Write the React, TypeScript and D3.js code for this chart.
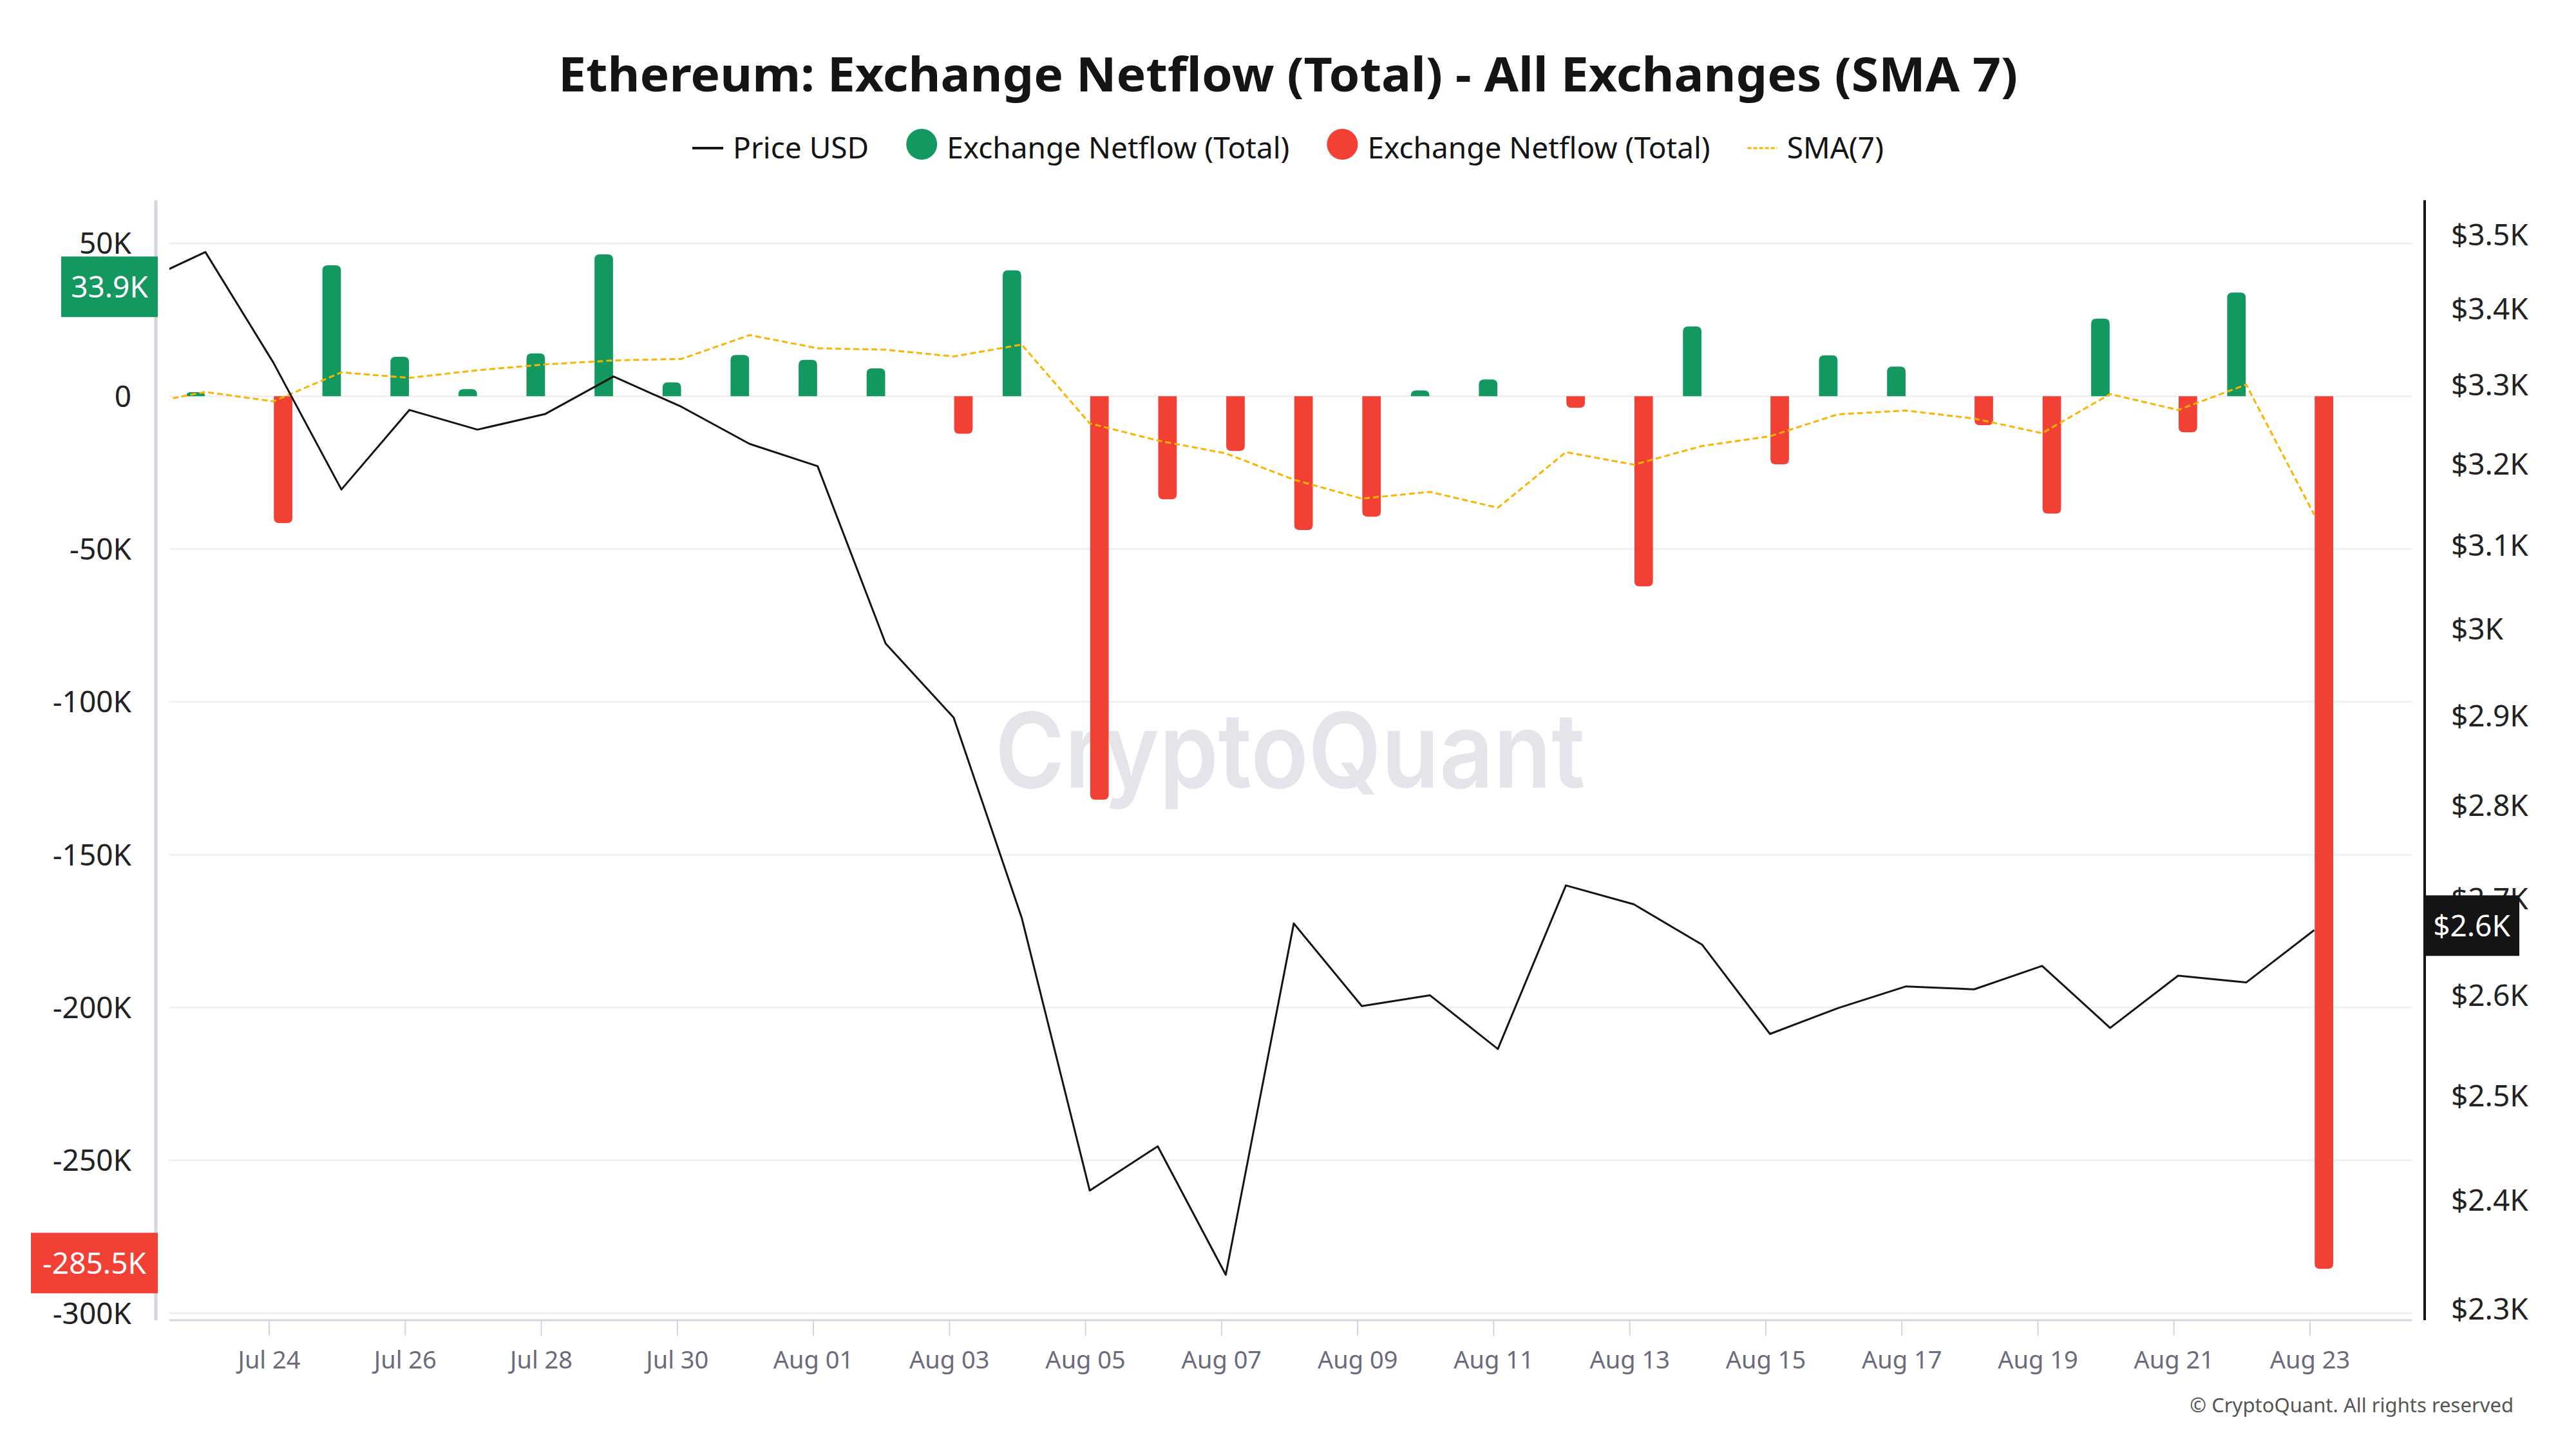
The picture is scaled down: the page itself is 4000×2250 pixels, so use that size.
import React, { useEffect, useRef } from "react";
import * as d3 from "d3";

// daily points, Jul 22 .. Aug 23 (2024)
const priceDates = d3.utcDay.range(new Date(Date.UTC(2024, 6, 22)), new Date(Date.UTC(2024, 7, 24)));
const flowDates = priceDates.slice(1); // Jul 23 .. Aug 23

const priceUsd = [
  3433, 3476, 3329, 3168, 3268, 3243, 3263, 3311, 3272, 3225,
  3197, 2983, 2898, 2680, 2409, 2451, 2331, 2674, 2589, 2600,
  2546, 2714, 2694, 2652, 2561, 2587, 2609, 2606, 2630, 2567,
  2620, 2613, 2667,
];

// exchange netflow, thousands of ETH
const netflowK = [
  1.3, -41.5, 42.8, 12.9, 2.3, 14.0, 46.4, 4.5, 13.5, 11.9,
  9.1, -12.3, 41.2, -132.0, -33.7, -17.9, -43.8, -39.4, 1.9, 5.5,
  -3.8, -62.2, 22.8, -22.3, 13.4, 9.7, -9.5, -38.4, 25.4, -11.8,
  33.9, -285.5,
];

// SMA(7) of netflow, thousands, Jul 22 .. Aug 23
const smaK = [
  -2.9, 1.4, -1.7, 7.8, 6.0, 8.5, 10.4, 11.7, 12.2, 20.0,
  15.7, 15.2, 13.0, 16.9, -8.9, -14.5, -18.7, -27.3, -33.5, -31.3,
  -36.5, -18.3, -22.4, -16.3, -13.1, -5.9, -4.7, -7.3, -12.1, 0.7,
  -4.5, 3.8, -38.8,
];

const flowTicks = [50000, 0, -50000, -100000, -150000, -200000, -250000, -300000];
const priceTicks = [3500, 3400, 3300, 3200, 3100, 3000, 2900, 2800, 2700, 2600, 2500, 2400, 2300];
const dateTicks = d3.utcDay.range(new Date(Date.UTC(2024, 6, 24)), new Date(Date.UTC(2024, 7, 24)), 2);

const legendItems = [
  { key: "price", label: "Price USD" },
  { key: "in", label: "Exchange Netflow (Total)" },
  { key: "out", label: "Exchange Netflow (Total)" },
  { key: "sma", label: "SMA(7)" },
];

const GREEN = "#139860";
const RED = "#f34035";
const ORANGE = "#fbb400";
const INK = "#141414";
const FONT = "'Noto Sans', 'Open Sans', sans-serif";

// plain hyphen for negatives, as on the chart
const fmtK = v => `${d3.format(".1f")(v / 1000).replace("\u2212", "-")}K`;

export default function App() {
  const svgRef = useRef(null);

  useEffect(() => {
    const width = 4000;
    const height = 2250;
    const plot = { left: 263, right: 3745, top: 311, bottom: 2050 };
    const pointShift = 6.5; // data points sit a little right of the day tick

    const svg = d3.select(svgRef.current)
      .attr("width", width)
      .attr("height", height)
      .attr("viewBox", [0, 0, width, height])
      .style("font-family", FONT);

    svg.selectAll("*").remove();

    svg.append("rect").attr("width", width).attr("height", height).attr("fill", "#fff");

    const x = d3.scaleUtc()
      .domain([new Date(Date.UTC(2024, 6, 22, 12, 47)), new Date(Date.UTC(2024, 7, 24, 11, 54))])
      .range([plot.left, plot.right]);
    const yFlow = d3.scaleLinear().domain([-302300, 64100]).range([plot.bottom, plot.top]);
    const yPrice = d3.scaleLog().domain([2290, 3547]).range([plot.bottom, plot.top]);
    const side = d3.scaleBand().domain(["in", "out"]).range([-31, 31]).padding(0.05);
    const px = d => x(d) + pointShift;

    svg.append("clipPath").attr("id", "plot-clip")
      .append("rect")
      .attr("x", plot.left).attr("y", plot.top)
      .attr("width", plot.right - plot.left).attr("height", plot.bottom - plot.top);

    // title
    svg.append("text")
      .attr("x", width / 2).attr("y", 142)
      .attr("text-anchor", "middle")
      .attr("font-size", 74)
      .attr("font-weight", 700)
      .attr("fill", INK)
      .attr("textLength", 2266)
      .attr("lengthAdjust", "spacingAndGlyphs")
      .text("Ethereum: Exchange Netflow (Total) - All Exchanges (SMA 7)");

    // legend, laid out from measured text widths and centred
    const legend = svg.append("g");
    let cursor = 0;
    legendItems.forEach((item, i) => {
      const g = legend.append("g").attr("transform", `translate(${cursor},0)`);
      let mw = 48;
      if (item.key === "price") {
        g.append("line").attr("x1", 0).attr("x2", 48).attr("y1", 0).attr("y2", 0)
          .attr("stroke", INK).attr("stroke-width", 4);
      } else if (item.key === "sma") {
        mw = 46;
        g.append("line").attr("x1", 0).attr("x2", 46).attr("y1", 0).attr("y2", 0)
          .attr("stroke", ORANGE).attr("stroke-width", 3).attr("stroke-dasharray", "6 3");
      } else {
        g.append("circle").attr("cx", 24).attr("cy", -6).attr("r", 24)
          .attr("fill", item.key === "in" ? GREEN : RED);
      }
      const t = g.append("text")
        .attr("x", mw + 15).attr("y", 16)
        .attr("font-size", 46)
        .attr("fill", INK)
        .text(item.label);
      const tw = t.node().getComputedTextLength();
      cursor += mw + 15 + tw + (i < legendItems.length - 1 ? 58 : 0);
    });
    legend.attr("transform", `translate(${width / 2 - cursor / 2},230)`);

    // watermark
    svg.append("text")
      .attr("x", 2003).attr("y", 1223)
      .attr("text-anchor", "middle")
      .attr("font-family", "Inter, 'Noto Sans', sans-serif")
      .attr("font-weight", 600)
      .attr("font-size", 162)
      .attr("fill", "#e4e4ea")
      .attr("textLength", 916)
      .attr("lengthAdjust", "spacingAndGlyphs")
      .text("CryptoQuant");

    // gridlines
    svg.append("g")
      .selectAll("line")
      .data(flowTicks)
      .join("line")
      .attr("x1", plot.left).attr("x2", plot.right)
      .attr("y1", d => yFlow(d)).attr("y2", d => yFlow(d))
      .attr("stroke", "#f0f0f0")
      .attr("stroke-width", 3);

    // axes lines
    svg.append("line")
      .attr("x1", 242).attr("x2", 242).attr("y1", plot.top).attr("y2", plot.bottom)
      .attr("stroke", "#d4d4de").attr("stroke-width", 5);
    svg.append("line")
      .attr("x1", 3765).attr("x2", 3765).attr("y1", plot.top).attr("y2", plot.bottom)
      .attr("stroke", INK).attr("stroke-width", 4);
    svg.append("line")
      .attr("x1", plot.left).attr("x2", plot.right).attr("y1", plot.bottom).attr("y2", plot.bottom)
      .attr("stroke", "#d4d4de").attr("stroke-width", 3);

    // x ticks
    const xt = svg.append("g").selectAll("g").data(dateTicks).join("g")
      .attr("transform", d => `translate(${x(d)},0)`);
    xt.append("line").attr("y1", plot.bottom).attr("y2", plot.bottom + 24)
      .attr("stroke", "#d4d4de").attr("stroke-width", 2);
    xt.append("text")
      .attr("y", 2125)
      .attr("text-anchor", "middle")
      .attr("font-size", 38)
      .attr("fill", "#6b6b7d")
      .text(d3.utcFormat("%b %d"));

    // left ticks
    svg.append("g").selectAll("text").data(flowTicks).join("text")
      .attr("x", 204).attr("y", d => yFlow(d))
      .attr("dy", "0.36em")
      .attr("text-anchor", "end")
      .attr("font-size", 46)
      .attr("fill", "#222")
      .text(d => (d === 0 ? "0" : `${d / 1000}K`));

    // right ticks
    svg.append("g").selectAll("text").data(priceTicks).join("text")
      .attr("x", 3806).attr("y", d => yPrice(d))
      .attr("dy", "0.36em")
      .attr("font-size", 46)
      .attr("fill", "#222")
      .text(d => `$${d3.format("~")(d / 1000)}K`);

    const series = svg.append("g").attr("clip-path", "url(#plot-clip)");

    // bars, rounded at the far end
    const barW = side.bandwidth();
    const r = 8;
    const barPath = (cx, y0, y1) => {
      const h = Math.abs(y1 - y0);
      const rr = Math.min(r, barW / 2, h);
      const xl = cx - barW / 2;
      const xr = cx + barW / 2;
      const s = y1 < y0 ? 1 : -1;
      return `M${xl},${y0}V${y1 + s * rr}Q${xl},${y1} ${xl + rr},${y1}H${xr - rr}Q${xr},${y1} ${xr},${y1 + s * rr}V${y0}Z`;
    };
    const flows = flowDates.map((d, i) => ({ date: d, value: netflowK[i] * 1000 }));
    series.append("g").selectAll("path").data(flows).join("path")
      .attr("fill", d => (d.value >= 0 ? GREEN : RED))
      .attr("d", d => {
        const key = d.value >= 0 ? "in" : "out";
        const cx = px(d.date) + side(key) + barW / 2;
        return barPath(cx, yFlow(0), yFlow(d.value));
      });

    // SMA(7)
    const smaLine = d3.line().x(d => px(d[0])).y(d => yFlow(d[1] * 1000));
    series.append("path")
      .datum(priceDates.map((d, i) => [d, smaK[i]]))
      .attr("fill", "none")
      .attr("stroke", ORANGE)
      .attr("stroke-width", 3)
      .attr("stroke-dasharray", "9 5")
      .attr("d", smaLine);

    // price
    const priceLine = d3.line().x(d => px(d[0])).y(d => yPrice(d[1]));
    series.append("path")
      .datum(priceDates.map((d, i) => [d, priceUsd[i]]))
      .attr("fill", "none")
      .attr("stroke", INK)
      .attr("stroke-width", 3)
      .attr("stroke-linejoin", "round")
      .attr("d", priceLine);

    // latest value badges
    const lastIn = flows.filter(d => d.value >= 0).slice(-1)[0];
    const lastOut = flows.filter(d => d.value < 0).slice(-1)[0];
    const badge = (x0, x1, cy, fill, label) => {
      svg.append("rect")
        .attr("x", x0).attr("y", cy - 47)
        .attr("width", x1 - x0).attr("height", 94)
        .attr("fill", fill);
      svg.append("text")
        .attr("x", (x0 + x1) / 2).attr("y", cy)
        .attr("dy", "0.36em")
        .attr("text-anchor", "middle")
        .attr("font-size", 46)
        .attr("fill", "#fff")
        .text(label);
    };
    badge(95, 245, yFlow(lastIn.value) - 9, GREEN, fmtK(lastIn.value));
    badge(48, 245, yFlow(lastOut.value) - 9, RED, fmtK(lastOut.value));
    badge(3764, 3912, yPrice(priceUsd[priceUsd.length - 1]) - 7, INK, "$2.6K");

    // footer
    svg.append("text")
      .attr("x", 3903).attr("y", 2193)
      .attr("text-anchor", "end")
      .attr("font-size", 31)
      .attr("fill", "#555")
      .text("© CryptoQuant. All rights reserved");
  }, []);

  return (
    <div style={{ position: "absolute", left: 0, top: 0 }}>
      <svg ref={svgRef} style={{ display: "block" }} />
    </div>
  );
}
